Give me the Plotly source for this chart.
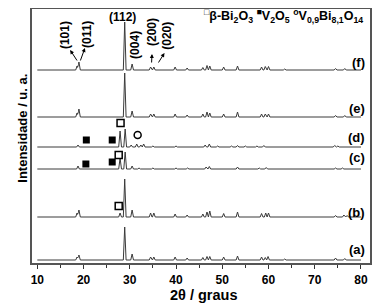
import plotly.graph_objects as go

# ---------------- data ----------------
# peak positions (2theta, degrees) and heights (a.u.) for each pattern
a_pos = [18.6, 19.0, 28.9, 30.5, 34.5, 35.2, 39.8, 42.4, 45.8, 46.7, 47.3, 50.3, 53.3, 58.5, 59.3, 59.9, 63.5, 74.5, 76.5]
a_h   = [3, 5, 33, 6, 3, 3, 3, 2, 2.5, 3.5, 3.5, 3, 4, 3, 2.5, 3.5, 1, 2, 1.5]

b_pos = [18.6, 19.0, 27.9, 28.9, 30.5, 34.5, 35.2, 39.8, 42.4, 45.8, 46.7, 47.3, 50.3, 53.3, 58.5, 59.4, 60.0, 74.5, 76.3, 77.0]
b_h   = [4, 7, 4, 38, 7, 4, 4, 3, 2, 3, 5, 6, 3.5, 5, 3.5, 4, 4, 1.5, 2, 1.5]

c_pos = [18.8, 27.9, 29.0, 30.5, 32.0, 35.0, 40.0, 42.5, 46.5, 47.2, 53.3, 58.0, 59.5, 74.5, 76.0]
c_h   = [3, 11, 17, 3, 1, 1, 1, 1, 2, 2.5, 2, 1, 1.5, 1, 1]

d_pos = [18.8, 27.9, 29.0, 30.3, 31.5, 32.4, 33.0, 35.0, 40.0, 46.3, 47.2, 49.0, 52.0, 53.3, 55.0, 57.5, 59.0, 74.3, 75.0]
d_h   = [2, 16, 18, 2, 3, 2, 3, 1, 1, 2, 3, 1, 1, 1.5, 1, 1, 1.5, 1.5, 1]

e_pos = [18.6, 19.0, 28.9, 30.5, 34.5, 35.2, 39.8, 42.4, 45.8, 46.7, 47.3, 50.3, 53.3, 58.5, 59.3, 60.0, 74.5, 76.5]
e_h   = [4, 8, 44, 6, 3, 3, 3, 2, 3, 5, 4, 3, 5, 3, 3, 3, 1.5, 1.5]

f_pos = [18.6, 19.0, 28.9, 30.5, 34.5, 35.2, 39.8, 42.4, 45.8, 46.7, 47.3, 50.3, 53.3, 58.5, 59.3, 60.0, 63.5, 74.5, 76.5]
f_h   = [4, 8, 48, 6, 3, 3, 3, 2, 2.5, 4.5, 4, 3, 4, 3, 3.5, 3.5, 1, 1.5, 1.5]

# vertical offsets of each pattern
offsets = {"a": 3, "b": 46, "c": 94, "d": 116, "e": 146, "f": 193}
labels = ["(a)", "(b)", "(c)", "(d)", "(e)", "(f)"]

# phase markers (2theta, intensity)
open_sq_x = [27.6, 27.6, 28.0]
open_sq_y = [57, 108, 140]
fill_sq_x = [20.5, 26.2, 20.6, 26.2]
fill_sq_y = [99, 101, 123, 123]
circ_x = [31.7]
circ_y = [128]

x_ticks = [10, 20, 30, 40, 50, 60, 70, 80]

# ---------------- figure ----------------
HW = 0.3
X0, X1 = 10, 80
FONT = "Liberation Sans, Arial, sans-serif"
LINE = "#3a3a3a"


def build(pos, h, base):
    xs = {X0, X1}
    for p in pos:
        xs.update([p - HW, p, p + HW])
    xs = sorted(x for x in xs if X0 <= x <= X1)
    ys = []
    for x in xs:
        y = base
        for p, hh in zip(pos, h):
            d = abs(x - p)
            if d < HW:
                y += hh * (1 - d / HW)
        ys.append(y)
    return xs, ys


series = {"a": (a_pos, a_h), "b": (b_pos, b_h), "c": (c_pos, c_h),
          "d": (d_pos, d_h), "e": (e_pos, e_h), "f": (f_pos, f_h)}

fig = go.Figure()
for k, (p, h) in series.items():
    xs, ys = build(p, h, offsets[k])
    fig.add_trace(go.Scatter(x=xs, y=ys, mode="lines",
                             line=dict(color=LINE, width=1), showlegend=False,
                             hoverinfo="skip"))

fig.add_trace(go.Scatter(x=open_sq_x, y=open_sq_y, mode="markers",
                         marker=dict(symbol="square-open", size=7, color="black",
                                     line=dict(width=1.5)), showlegend=False))
fig.add_trace(go.Scatter(x=fill_sq_x, y=fill_sq_y, mode="markers",
                         marker=dict(symbol="square", size=7, color="black"),
                         showlegend=False))
fig.add_trace(go.Scatter(x=circ_x, y=circ_y, mode="markers",
                         marker=dict(symbol="circle-open", size=7, color="black",
                                     line=dict(width=1.5)), showlegend=False))

ann = []
label_y = [14, 51, 106, 126, 155, 201]
for lab, ly in zip(labels, label_y):
    ann.append(dict(x=81.3, y=ly, text="<b>%s</b>" % lab, showarrow=False,
                    xanchor="right", yanchor="middle",
                    font=dict(size=13, color="black", family=FONT)))

# hkl labels
hkl = [("(101)", 16.0, 228, -90), ("(011)", 20.75, 228, -90),
       ("(112)", 28.5, 246, 0), ("(004)", 31.1, 218, -90),
       ("(200)", 34.8, 231, -90), ("(020)", 38.0, 227, -90)]
for t, x, y, ang in hkl:
    ann.append(dict(x=x, y=y, text="<b>%s</b>" % t, showarrow=False,
                    textangle=ang, xanchor="center", yanchor="middle",
                    font=dict(size=12, color="black", family=FONT)))

# arrows (head at label side)
arrows = [((17.1, 213), (18.8, 201)), ((20.3, 215), (19.2, 201)),
          ((34.8, 209), (34.7, 199)), ((37.5, 210), (36.0, 199))]
for (hx, hy), (tx, ty) in arrows:
    ann.append(dict(x=hx, y=hy, ax=tx, ay=ty, axref="x", ayref="y", text="",
                    showarrow=True, arrowhead=2, arrowsize=0.8, arrowwidth=1,
                    arrowcolor="black"))

# phase legend at top
ann.append(dict(x=45.6, y=247, xanchor="left", yanchor="middle", showarrow=False,
                text="<b><sup>□</sup>β-Bi<sub>2</sub>O<sub>3</sub> <sup>■</sup>V<sub>2</sub>O<sub>5</sub> "
                     "<sup>o</sup>V<sub>0,9</sub>Bi<sub>8,1</sub>O<sub>14</sub></b>",
                font=dict(size=12.5, color="black", family=FONT)))

# axis titles
ann.append(dict(x=-0.056, y=0.531, xref="paper", yref="paper", showarrow=False,
                text="<b>Intensidade / u. a.</b>", textangle=-90,
                font=dict(size=13, color="black", family=FONT)))
ann.append(dict(x=0.506, y=-0.126, xref="paper", yref="paper", showarrow=False,
                text="<b>2θ / graus</b>", xanchor="center", yanchor="middle",
                font=dict(size=14.5, color="black", family=FONT)))

# the page body adds an 8px margin, so the figure is 8px smaller and shifted
fig.update_layout(
    width=372, height=296,
    margin=dict(l=24, r=10, t=1, b=41, autoexpand=False),
    paper_bgcolor="white", plot_bgcolor="white",
    annotations=ann,
    xaxis=dict(range=[8.85, 81.95], tickvals=x_ticks, automargin=False,
               ticktext=["<b>%d</b>" % v for v in x_ticks],
               ticks="outside", ticklen=4, tickcolor="#333", ticklabelstandoff=1,
               minor=dict(dtick=5, tick0=5, ticks="outside", ticklen=3, tickcolor="#333"),
               showline=True, linecolor="#555", linewidth=1.5, mirror=True,
               showgrid=False, zeroline=False,
               tickfont=dict(size=12, color="black", family=FONT)),
    yaxis=dict(range=[0, 254], showticklabels=False, ticks="", automargin=False,
               showline=True, linecolor="#555", linewidth=1.5, mirror=True,
               showgrid=False, zeroline=False),
)

fig.write_html("out.html")
